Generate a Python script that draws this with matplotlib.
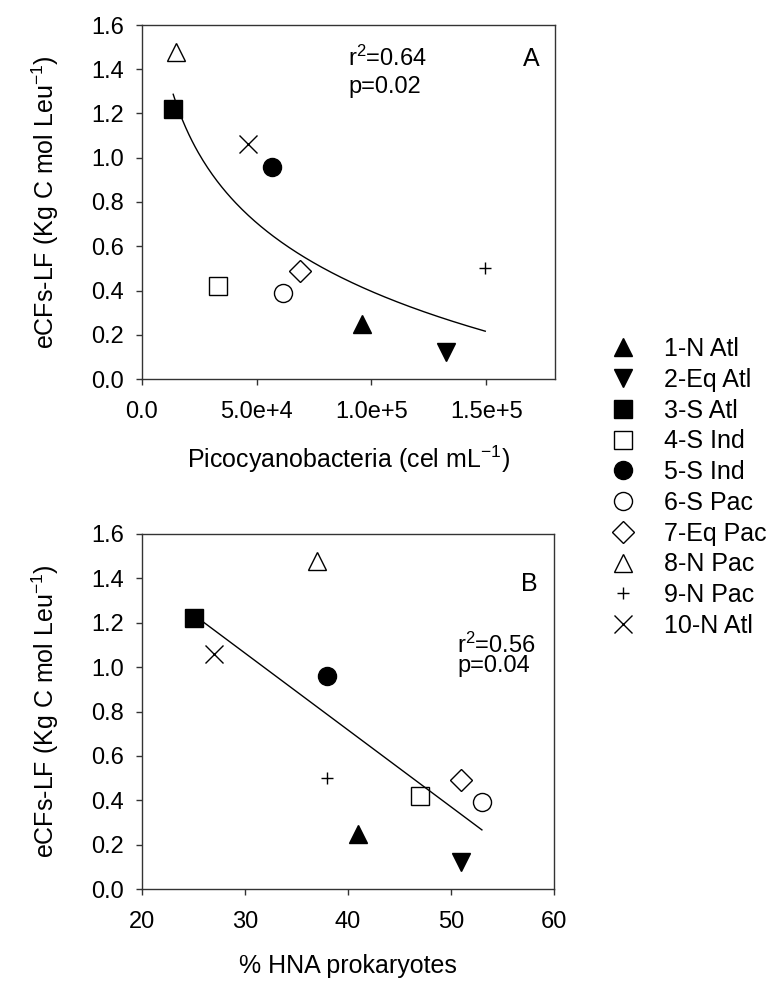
import numpy as np
import matplotlib
matplotlib.use("Agg")
from matplotlib import pyplot as plt

# data
labels = ['1-N Atl', '2-Eq Atl', '3-S Atl', '4-S Ind', '5-S Ind',
          '6-S Pac', '7-Eq Pac', '8-N Pac', '9-N Pac', '10-N Atl']
picocyano = [9.6e4, 1.325e5, 1.36e4, 3.32e4, 5.68e4, 6.16e4, 6.87e4, 1.48e4, 1.496e5, 4.62e4]
hna = [41, 51, 25, 47, 38, 53, 51, 37, 38, 27]
ecf = [0.25, 0.12, 1.22, 0.42, 0.96, 0.39, 0.49, 1.48, 0.50, 1.06]

# marker styles
markers = ['^', 'v', 's', 's', 'o', 'o', 'D', '^', '+', 'x']
faces = ['k', 'k', 'k', 'w', 'k', 'w', 'w', 'w', 'k', 'k']
sizes = [13.5, 13.5, 13, 12.5, 13, 13, 11, 13.5, 9, 13]

plt.rcParams['font.family'] = ['Liberation Sans', 'DejaVu Sans']
plt.rcParams['mathtext.fontset'] = 'custom'
plt.rcParams['mathtext.rm'] = 'Liberation Sans'
plt.rcParams['mathtext.it'] = 'Liberation Sans:italic'
plt.rcParams['mathtext.bf'] = 'Liberation Sans:bold'

fig = plt.figure(figsize=(7.75, 9.83), dpi=100)
W, H = 775, 983
axA = fig.add_axes([142 / W, 1 - 379 / H, 413 / W, 354 / H])
axB = fig.add_axes([142 / W, 1 - 889 / H, 412 / W, 355 / H])


def draw_points(ax, xs):
    handles = []
    for i in range(len(labels)):
        h, = ax.plot(xs[i], ecf[i], linestyle='none', marker=markers[i],
                     markersize=sizes[i], markerfacecolor=faces[i],
                     markeredgecolor='k', markeredgewidth=1.0, label=labels[i])
        handles.append(h)
    return handles


def style(ax):
    for s in ax.spines.values():
        s.set_color('#333333')
        s.set_linewidth(1.0)
    ax.tick_params(direction='out', length=4, width=1, color='#333333',
                   labelsize=17, top=False, right=False)
    ax.tick_params(axis='x', pad=12)
    ax.tick_params(axis='y', pad=9)
    ax.set_ylim(0, 1.6)
    ax.set_yticks(np.arange(0, 1.61, 0.2))
    ax.set_yticklabels(['%.1f' % v for v in np.arange(0, 1.61, 0.2)])
    ax.set_ylabel('eCFs-LF (Kg C mol Leu$^{-1}$)', fontsize=18, labelpad=22)


# panel A: logarithmic fit
handles = draw_points(axA, picocyano)
b, a = np.polyfit(np.log(picocyano), ecf, 1)
xx = np.linspace(min(picocyano), max(picocyano), 200)
axA.plot(xx, a + b * np.log(xx), color='k', lw=1.0)
axA.set_xlim(0, 1.8e5)
axA.set_xticks([0, 5e4, 1e5, 1.5e5])
axA.set_xticklabels(['0.0', '5.0e+4', '1.0e+5', '1.5e+5'])
axA.set_xlabel('Picocyanobacteria (cel mL$^{-1}$)', fontsize=18, labelpad=15)
style(axA)
axA.text(0.499, 0.808, 'r$^2$=0.64\np=0.02', transform=axA.transAxes,
         fontsize=17, linespacing=1.3, va='baseline')
axA.text(0.942, 0.884, 'A', transform=axA.transAxes, fontsize=18, ha='center')

# panel B: linear fit
draw_points(axB, hna)
b2, a2 = np.polyfit(hna, ecf, 1)
xx2 = np.array([min(hna), max(hna)])
axB.plot(xx2, a2 + b2 * xx2, color='k', lw=1.0)
axB.set_xlim(20, 60)
axB.set_xticks([20, 30, 40, 50, 60])
axB.set_xlabel('% HNA prokaryotes', fontsize=18, labelpad=15)
style(axB)
axB.text(0.939, 0.839, 'B', transform=axB.transAxes, fontsize=18, ha='center')
axB.text(0.765, 0.611, 'r$^2$=0.56\np=0.04', transform=axB.transAxes,
         fontsize=17, linespacing=0.85, va='baseline')

fig.legend(handles=handles, loc='upper left',
           bbox_to_anchor=(610 / W, 1 - 337 / H), frameon=False,
           fontsize=18, borderpad=0, borderaxespad=0, handlelength=1.0,
           handletextpad=1.18, labelspacing=0.27, numpoints=1)

fig.savefig('out.png', dpi=100)
